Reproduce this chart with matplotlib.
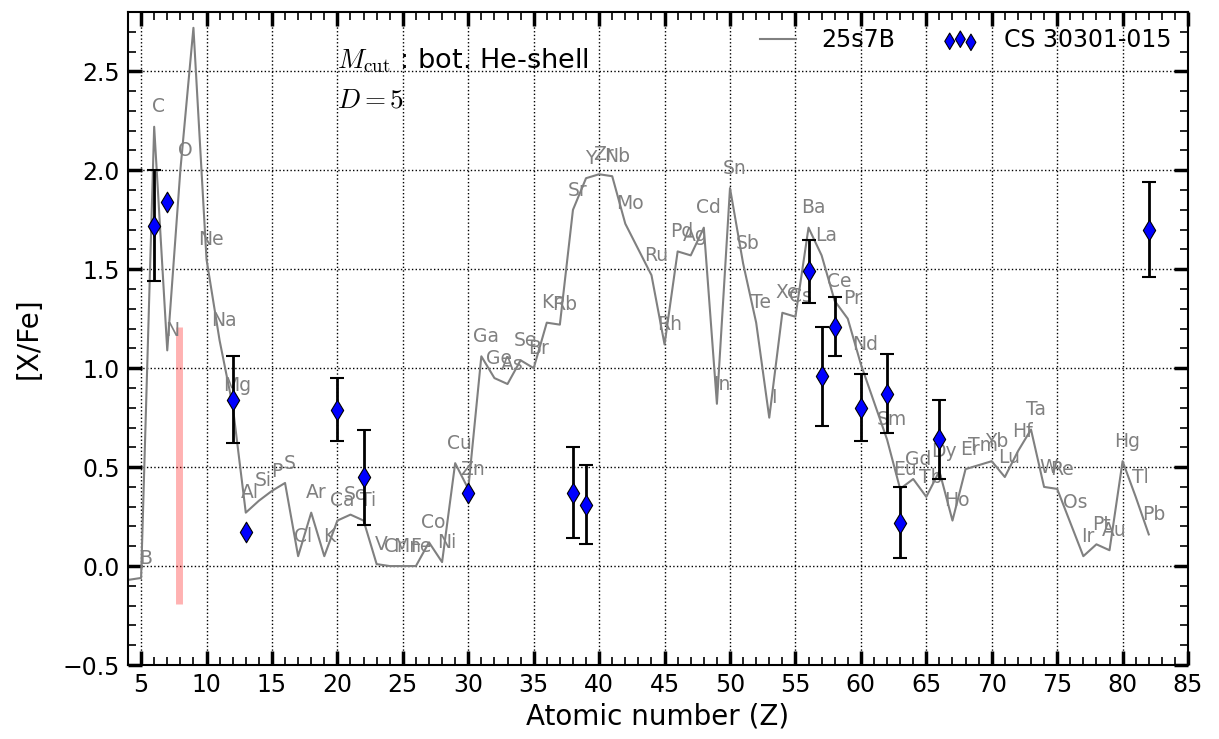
import matplotlib
matplotlib.use('Agg')
import matplotlib.pyplot as plt
from matplotlib.ticker import MultipleLocator
import numpy as np

plt.rcParams['mathtext.fontset'] = 'cm'
plt.rcParams['font.family'] = 'DejaVu Sans'

# 25s7B model abundances
model_z = [4, 5, 6, 7, 8, 9, 10, 11, 12, 13, 14, 15, 16, 17, 18, 19, 20, 21, 22,
           23, 24, 25, 26, 27, 28, 29, 30, 31, 32, 33, 34, 35, 36, 37, 38, 39, 40,
           41, 42, 44, 45, 46, 47, 48, 49, 50, 51, 52, 53, 54, 55, 56, 57, 58, 59,
           60, 62, 63, 64, 65, 66, 67, 68, 69, 70, 71, 72, 73, 74, 75, 76, 77, 78,
           79, 80, 81, 82]
model_names = ['', 'B', 'C', 'N', 'O', '', 'Ne', 'Na', 'Mg', 'Al', 'Si', 'P', 'S',
               'Cl', 'Ar', 'K', 'Ca', 'Sc', 'Ti', 'V', 'Cr', 'Mn', 'Fe', 'Co', 'Ni',
               'Cu', 'Zn', 'Ga', 'Ge', 'As', 'Se', 'Br', 'Kr', 'Rb', 'Sr', 'Y', 'Zr',
               'Nb', 'Mo', 'Ru', 'Rh', 'Pd', 'Ag', 'Cd', 'In', 'Sn', 'Sb', 'Te', 'I',
               'Xe', 'Cs', 'Ba', 'La', 'Ce', 'Pr', 'Nd', 'Sm', 'Eu', 'Gd', 'Tb', 'Dy',
               'Ho', 'Er', 'Tm', 'Yb', 'Lu', 'Hf', 'Ta', 'W', 'Re', 'Os', 'Ir', 'Pt',
               'Au', 'Hg', 'Tl', 'Pb']
model_xfe = [-0.07, -0.06, 2.22, 1.09, 2.00, 2.72, 1.55, 1.14, 0.81, 0.27, 0.33,
             0.38, 0.42, 0.05, 0.27, 0.05, 0.23, 0.26, 0.23, 0.01, 0.00, 0.00,
             0.00, 0.12, 0.02, 0.52, 0.39, 1.06, 0.95, 0.92, 1.04, 1.00, 1.23,
             1.22, 1.80, 1.96, 1.98, 1.97, 1.73, 1.47, 1.12, 1.59, 1.57, 1.71,
             0.82, 1.91, 1.53, 1.23, 0.75, 1.28, 1.26, 1.71, 1.57, 1.34, 1.25,
             1.02, 0.64, 0.39, 0.44, 0.35, 0.48, 0.23, 0.49, 0.51, 0.53, 0.45,
             0.58, 0.69, 0.40, 0.39, 0.22, 0.05, 0.11, 0.08, 0.53, 0.35, 0.16]

# CS 30301-015 observations
obs_z = [6, 7, 12, 13, 20, 22, 30, 38, 39, 56, 57, 58, 60, 62, 63, 66, 82]
obs_xfe = [1.72, 1.84, 0.84, 0.17, 0.79, 0.45, 0.37, 0.37, 0.31, 1.49, 0.96,
           1.21, 0.80, 0.87, 0.22, 0.64, 1.70]
obs_err = [0.28, 0.0, 0.22, 0.0, 0.16, 0.24, 0.0, 0.23, 0.20, 0.16, 0.25,
           0.15, 0.17, 0.20, 0.18, 0.20, 0.24]

# shaded band near oxygen
band_z = 7.9
band_lo, band_hi = -0.19, 1.21

fig = plt.figure(figsize=(12.19, 7.39), dpi=100)
ax = fig.add_axes([0.105, 0.1001, 0.8696, 0.8837])

ax.plot(model_z, model_xfe, '-', color='gray', lw=1.5, label='25s7B')
for z, name, v in zip(model_z, model_names, model_xfe):
    if name:
        ax.text(z + 0.35, v + 0.1, name, color='gray', fontsize=13.5,
                ha='center', va='center')

ax.plot([band_z, band_z], [band_lo, band_hi], color='red', alpha=0.3, lw=5,
        solid_capstyle='butt')

oz = np.array(obs_z)
ov = np.array(obs_xfe)
oe = np.array(obs_err)
has_err = oe > 0
ax.errorbar(oz[has_err], ov[has_err], yerr=oe[has_err], fmt='none',
            ecolor='k', elinewidth=2, capsize=5, capthick=1.5, zorder=3)
ax.scatter(oz, ov, marker='d', s=110, c='b', edgecolors='k', linewidths=0.8,
           zorder=4, label='CS 30301-015')

ax.text(0.197, 0.926, r'$M_{\rm cut}$ : bot. He-shell', transform=ax.transAxes,
        fontsize=19.5, va='center', ha='left')
ax.text(0.197, 0.865, r'$D=5$', transform=ax.transAxes,
        fontsize=19.5, va='center', ha='left')

ax.set_xlim(4, 85)
ax.set_ylim(-0.5, 2.8)
ax.xaxis.set_major_locator(MultipleLocator(5))
ax.xaxis.set_minor_locator(MultipleLocator(1))
ax.yaxis.set_major_locator(MultipleLocator(0.5))
ax.yaxis.set_minor_locator(MultipleLocator(0.1))
ax.tick_params(which='both', direction='in', top=True, right=True)
ax.tick_params(which='major', length=10, width=2.5, labelsize=17, pad=6)
ax.tick_params(which='minor', length=6, width=1.2)
for sp in ax.spines.values():
    sp.set_linewidth(1.5)
ax.grid(True, which='major', color='k', linestyle=':', lw=1)

ax.set_xlabel('Atomic number (Z)', fontsize=20, labelpad=4)
ax.set_ylabel('[X/Fe]', fontsize=20, labelpad=14)

ax.legend(loc='upper right', ncol=2, frameon=False, fontsize=17,
          scatterpoints=3, markerscale=0.8, borderaxespad=0.3,
          columnspacing=2.0, handlelength=1.5, handletextpad=1.1)

fig.savefig('out.png', dpi=100)
